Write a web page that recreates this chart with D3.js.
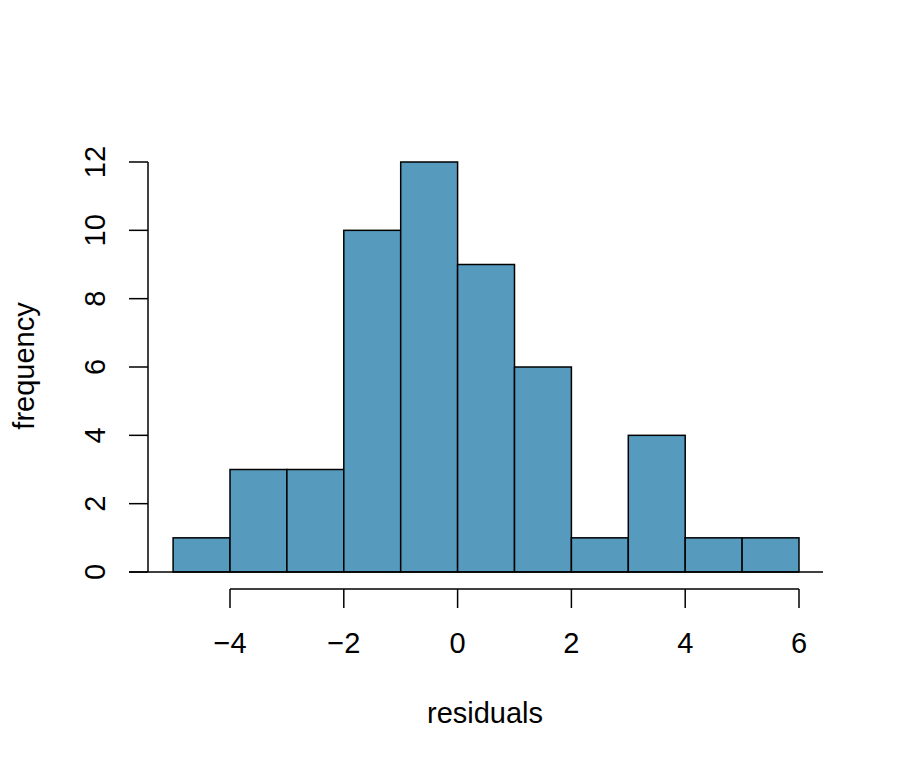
<!DOCTYPE html>
<html>
<head>
<meta charset="utf-8">
<script src="https://cdn.jsdelivr.net/npm/d3@7"></script>
<style>
  body { margin: 0; background: #fff; }
  text { font-family: "Liberation Sans", Arial, sans-serif; fill: #000; }
</style>
</head>
<body>
<div id="chart"></div>
<script>
// histogram bins (left edges, width 1) and counts
const binStarts = [-5, -4, -3, -2, -1, 0, 1, 2, 3, 4, 5];
const counts = [1, 3, 3, 10, 12, 9, 6, 1, 4, 1, 1];
const xTicks = [-4, -2, 0, 2, 4, 6];
const yTicks = [0, 2, 4, 6, 8, 10, 12];

const width = 900;
const height = 773;
const fill = "#569BBD";
const fontSize = 29;

const svg = d3.select("#chart").append("svg")
  .attr("width", width)
  .attr("height", height);

const x = d3.scaleLinear().domain([-4, 6]).range([230, 799]);
const y = d3.scaleLinear().domain([0, 12]).range([572, 162]);

// bars
svg.selectAll("rect.bar")
  .data(binStarts)
  .join("rect")
  .attr("class", "bar")
  .attr("x", d => x(d))
  .attr("y", (d, i) => y(counts[i]))
  .attr("width", d => x(d + 1) - x(d))
  .attr("height", (d, i) => y(0) - y(counts[i]))
  .attr("fill", fill)
  .attr("stroke", "#000")
  .attr("stroke-width", 1.5);

// baseline at zero
svg.append("line")
  .attr("x1", 129).attr("x2", 823)
  .attr("y1", y(0)).attr("y2", y(0))
  .attr("stroke", "#000").attr("stroke-width", 1.5);

// y axis
const yAxis = svg.append("g").attr("transform", "translate(148,0)");
yAxis.append("line")
  .attr("y1", y(0)).attr("y2", y(12))
  .attr("stroke", "#000").attr("stroke-width", 1.5);
yAxis.selectAll("line.tick")
  .data(yTicks)
  .join("line")
  .attr("class", "tick")
  .attr("x1", 0).attr("x2", -19)
  .attr("y1", d => y(d)).attr("y2", d => y(d))
  .attr("stroke", "#000").attr("stroke-width", 1.5);
yAxis.selectAll("text")
  .data(yTicks)
  .join("text")
  .attr("transform", d => `translate(-43,${y(d)}) rotate(-90)`)
  .attr("text-anchor", "middle")
  .attr("font-size", fontSize)
  .text(d => d);

// x axis
const xAxis = svg.append("g").attr("transform", "translate(0,589)");
xAxis.append("line")
  .attr("x1", x(-4)).attr("x2", x(6))
  .attr("stroke", "#000").attr("stroke-width", 1.5);
xAxis.selectAll("line.tick")
  .data(xTicks)
  .join("line")
  .attr("class", "tick")
  .attr("x1", d => x(d)).attr("x2", d => x(d))
  .attr("y1", 0).attr("y2", 19)
  .attr("stroke", "#000").attr("stroke-width", 1.5);
xAxis.selectAll("text")
  .data(xTicks)
  .join("text")
  .attr("x", d => x(d))
  .attr("y", 64)
  .attr("text-anchor", "middle")
  .attr("font-size", fontSize)
  .text(d => d < 0 ? "\u2212" + Math.abs(d) : d);

// axis titles
svg.append("text")
  .attr("x", 485)
  .attr("y", 723)
  .attr("text-anchor", "middle")
  .attr("font-size", fontSize)
  .text("residuals");

svg.append("text")
  .attr("transform", `translate(34,366) rotate(-90)`)
  .attr("text-anchor", "middle")
  .attr("font-size", fontSize)
  .text("frequency");
</script>
</body>
</html>
